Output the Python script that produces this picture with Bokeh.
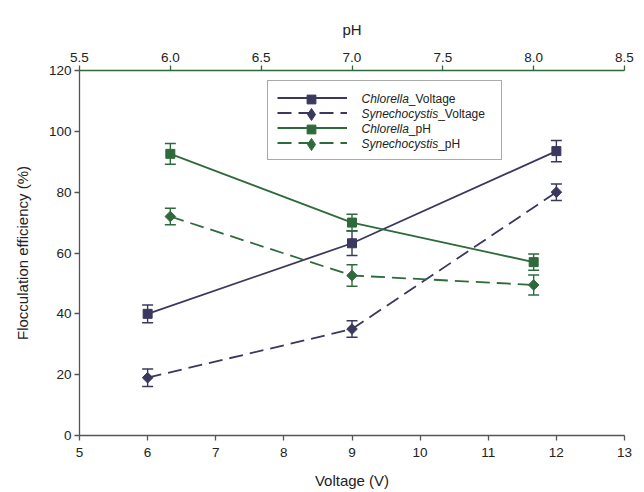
import numpy as np
from bokeh.plotting import figure
from bokeh.models import (Range1d, LinearAxis, FixedTicker, Legend, LegendItem,
                          Label, NumeralTickFormatter, ColumnDataSource)
from bokeh.embed import file_html
from bokeh.resources import INLINE

# ---------------- data ----------------
voltage = [6, 9, 12]
chlorella_voltage = [40.0, 63.2, 93.5]
chlorella_voltage_err = [2.9, 4.0, 3.5]
synechocystis_voltage = [19.0, 35.0, 80.0]
synechocystis_voltage_err = [2.9, 2.7, 2.7]

ph = [6.0, 7.0, 8.0]
chlorella_ph = [92.6, 70.0, 57.0]
chlorella_ph_err = [3.4, 2.7, 2.7]
synechocystis_ph = [72.0, 52.6, 49.5]
synechocystis_ph_err = [2.7, 3.5, 3.3]

voltage_ticks = [5, 6, 7, 8, 9, 10, 11, 12, 13]
ph_ticks = [5.5, 6.0, 6.5, 7.0, 7.5, 8.0, 8.5]
y_ticks = [0, 20, 40, 60, 80, 100, 120]

legend_genus = ["Chlorella", "Synechocystis", "Chlorella", "Synechocystis"]
legend_suffix = ["_Voltage", "_Voltage", "_pH", "_pH"]

# ---------------- style ----------------
BLUE = "#3a385e"
GREEN = "#2f6a3c"
AXIS = "#555555"
TEXT = "#222222"
FONT = "Liberation Sans"
DASH = "14 7"
genus_width = {"Chlorella": 47.3, "Synechocystis": 76.7}  # px at 12px

p = figure(width=644, height=492, output_backend="svg", toolbar_location=None,
           x_range=Range1d(5, 13), y_range=Range1d(0, 120),
           min_border_left=79, min_border_right=20, min_border_top=70,
           min_border_bottom=57)
p.extra_x_ranges = {"ph": Range1d(5.5, 8.5)}
p.grid.visible = False
p.outline_line_color = None
p.background_fill_color = "white"
p.border_fill_color = "white"

top_axis = LinearAxis(x_range_name="ph", axis_label="pH")
p.add_layout(top_axis, "above")
bottom_axis = p.below[0]
left_axis = p.left[0]

bottom_axis.ticker = FixedTicker(ticks=voltage_ticks)
top_axis.ticker = FixedTicker(ticks=ph_ticks)
top_axis.formatter = NumeralTickFormatter(format="0.0")
left_axis.ticker = FixedTicker(ticks=y_ticks)

bottom_axis.axis_label = "Voltage (V)"
left_axis.axis_label = "Flocculation efficiency (%)"

for ax in [bottom_axis, left_axis, top_axis]:
    ax.axis_line_color = AXIS
    ax.axis_line_width = 1.3
    ax.major_tick_line_color = AXIS
    ax.major_tick_line_width = 1.3
    ax.minor_tick_line_color = None
    ax.major_tick_out = 5
    ax.major_tick_in = 0
    ax.major_label_text_font = FONT
    ax.major_label_text_font_size = "13.5px"
    ax.major_label_text_color = TEXT
    ax.axis_label_text_font = FONT
    ax.axis_label_text_font_size = "15px"
    ax.axis_label_text_font_style = "normal"
    ax.axis_label_text_color = TEXT

top_axis.axis_line_color = GREEN
top_axis.major_tick_line_color = GREEN
top_axis.major_label_standoff = 4
top_axis.axis_label_standoff = 12
bottom_axis.major_label_standoff = 7
bottom_axis.axis_label_standoff = 12
left_axis.major_label_standoff = 3
left_axis.axis_label_standoff = 15


def draw(x, y, err, color, dash, diamond, range_name):
    src = ColumnDataSource(dict(x=x, y=y,
                                lo=[a - b for a, b in zip(y, err)],
                                hi=[a + b for a, b in zip(y, err)]))
    kw = dict(x_range_name=range_name)
    p.segment(x0="x", y0="lo", x1="x", y1="hi", source=src,
              line_color=color, line_width=1.4, **kw)
    for col in ["lo", "hi"]:
        p.scatter("x", col, marker="dash", size=11, line_color=color,
                  line_width=1.5, source=src, **kw)
    ln = p.line("x", "y", source=src, line_color=color, line_width=1.8,
                line_dash=dash, **kw)
    sc = p.scatter("x", "y", marker="square", size=7.5 if diamond else 9,
                   angle=np.pi / 4 if diamond else 0.0,
                   fill_color=color, line_color=color, source=src, **kw)
    if diamond:
        # same points, drawn only as the legend sample (diamond shape)
        mk = p.scatter("x", "y", marker="diamond", fill_color=color,
                       line_color=color, source=src, visible=False, **kw)
    else:
        mk = sc
    return ln, mk


series = [
    draw(voltage, chlorella_voltage, chlorella_voltage_err, BLUE, "solid", False, "default"),
    draw(voltage, synechocystis_voltage, synechocystis_voltage_err, BLUE, DASH, True, "default"),
    draw(ph, chlorella_ph, chlorella_ph_err, GREEN, "solid", False, "ph"),
    draw(ph, synechocystis_ph, synechocystis_ph_err, GREEN, DASH, True, "ph"),
]

# legend box with line samples
legend = Legend(items=[LegendItem(label=" ", renderers=[ln]) for ln, _ in series],
                location=(188, 275), glyph_width=70, glyph_height=15,
                label_height=15, label_width=130, label_standoff=15,
                padding=9, spacing=0, margin=0,
                border_line_color=AXIS, border_line_width=1.2,
                background_fill_alpha=0,
                label_text_font_size="12px")
p.add_layout(legend)

# marker samples (bigger than the line rows allow), one per row
for i, (ln, mk) in enumerate(series):
    gh = 30 if i % 2 else 22
    row_center = 336.5 - 15 * i
    p.add_layout(Legend(items=[LegendItem(label=" ", renderers=[mk])],
                        location=(197, row_center - gh / 2), glyph_width=70,
                        glyph_height=gh, label_height=0, label_width=0,
                        label_standoff=0, padding=0, spacing=0, margin=0,
                        border_line_color=None, background_fill_alpha=0,
                        label_text_font_size="1px"))

for i, (g, s) in enumerate(zip(legend_genus, legend_suffix)):
    yy = 336.5 - 15 * i
    p.add_layout(Label(x=282, y=yy, x_units="screen", y_units="screen", text=g,
                       text_font=FONT, text_font_style="italic", text_font_size="12px",
                       text_baseline="middle", text_color=TEXT))
    p.add_layout(Label(x=282 + genus_width[g], y=yy, x_units="screen", y_units="screen",
                       text=s, text_font=FONT, text_font_size="12px",
                       text_baseline="middle", text_color=TEXT))

open("out.html", "w").write(file_html(p, INLINE))
